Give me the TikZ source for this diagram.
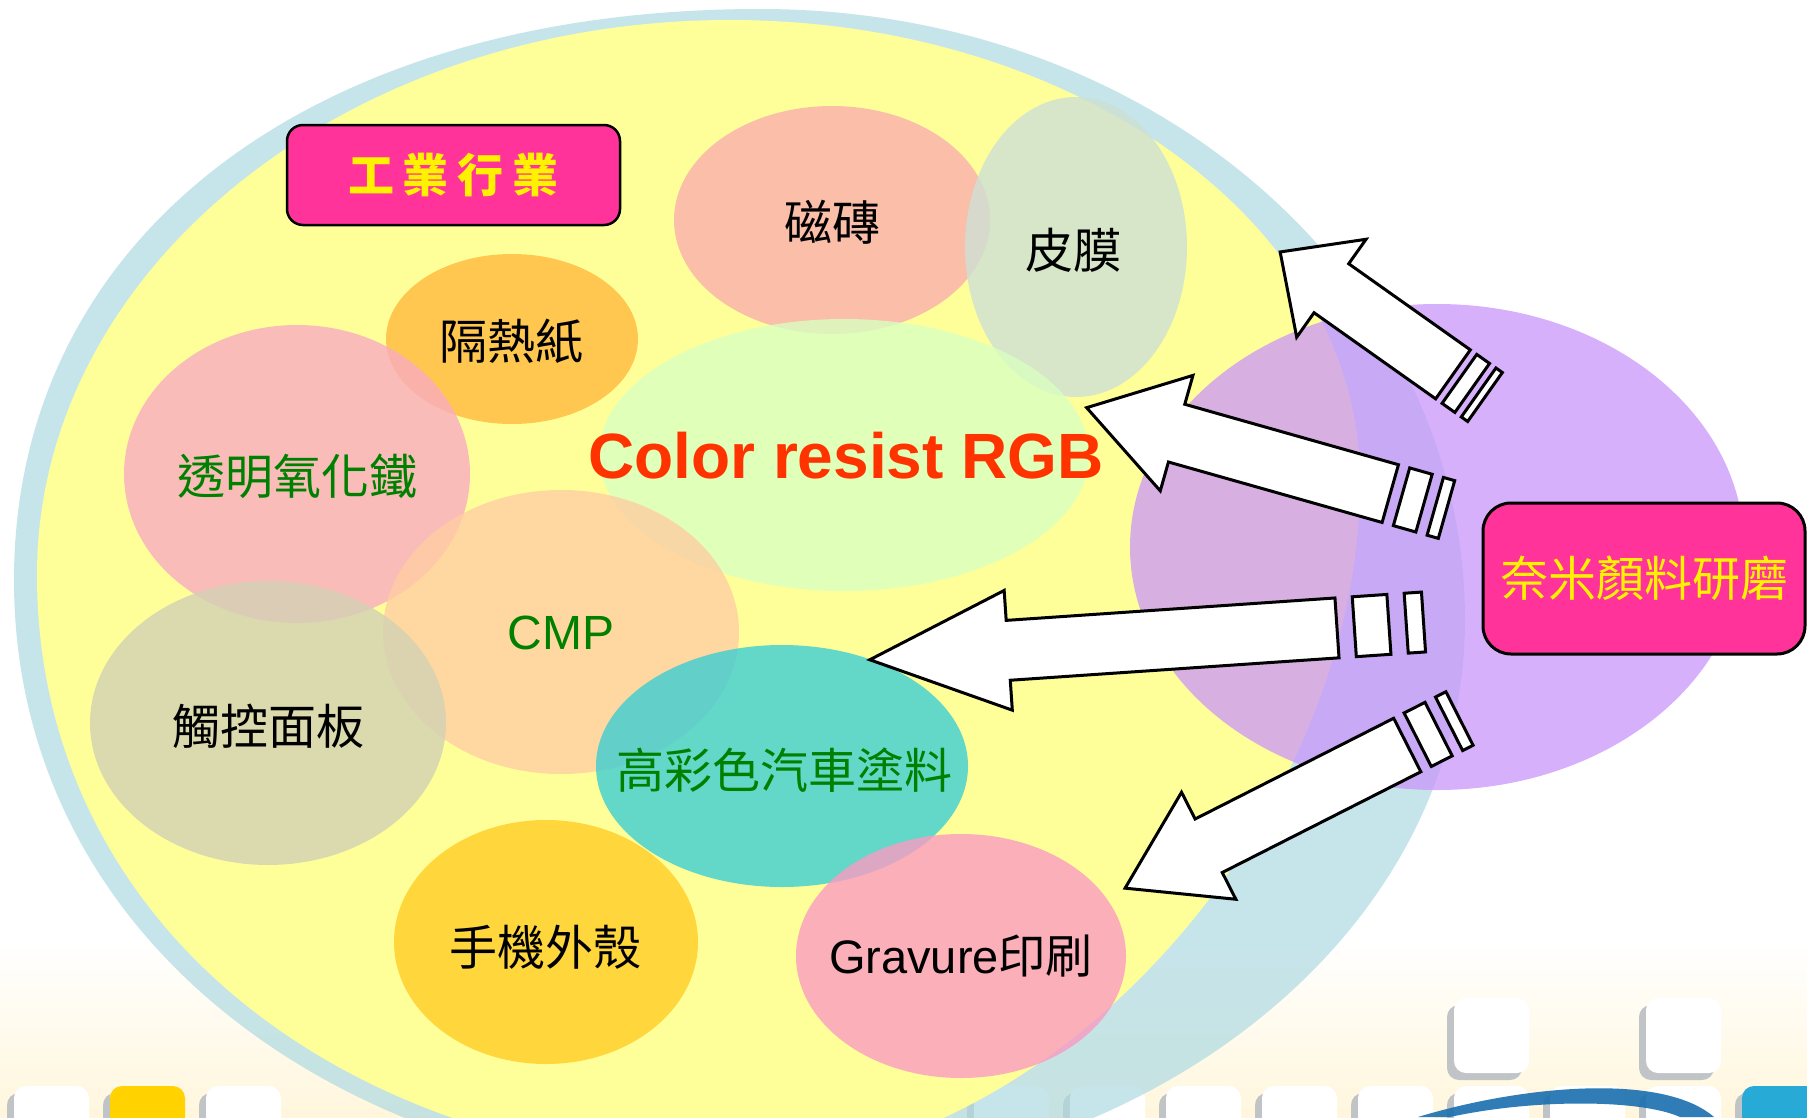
\documentclass[tikz,border=0pt]{standalone}
\usepackage{fontspec}
\setmainfont{Liberation Sans}
\newfontfamily\cjk{Noto Sans CJK TC}
\usetikzlibrary{shapes.geometric}
\definecolor{ylw}{RGB}{255,255,153}
\definecolor{ringblue}{RGB}{175,218,226}
\definecolor{purp}{RGB}{202,150,250}
\definecolor{boxpink}{RGB}{255,51,153}
\definecolor{txtgreen}{RGB}{0,128,0}
\definecolor{txtred}{RGB}{255,51,0}
\definecolor{cSalmon}{RGB}{249,174,174}
\definecolor{cSkin}{RGB}{205,224,212}
\definecolor{cOrange}{RGB}{255,186,62}
\definecolor{cPink}{RGB}{249,172,193}
\definecolor{cLime}{RGB}{217,255,193}
\definecolor{cPeach}{RGB}{255,205,162}
\definecolor{cOlive}{RGB}{211,209,180}
\definecolor{cTeal}{RGB}{61,205,212}
\definecolor{cGold}{RGB}{255,205,37}
\definecolor{cRose}{RGB}{249,155,193}
\definecolor{tileshadow}{RGB}{192,196,198}
\definecolor{tileyellow}{RGB}{255,210,0}
\definecolor{tileblue}{RGB}{40,170,215}
\definecolor{swoosh}{RGB}{25,110,175}
\definecolor{cream}{RGB}{255,246,220}
\tikzset{
  blob/.style={ellipse, inner sep=0pt, fill opacity=0.8},
  lbl/.style={inner sep=0pt, font=\cjk\fontsize{48}{58}\selectfont},
  labelbox/.style={draw=black, line width=2.5pt, fill=boxpink, inner sep=0pt},
  blockarrow/.style={draw=black, fill=white, line width=3pt, line join=miter},
  tile/.style={rounded corners=12pt}
}
\newcommand{\stripedarrow}[4]{%
  \begin{scope}[shift={(#1,#2)}, rotate=#3]
    \draw[blockarrow] (0,-30) rectangle ({0.03125*#4},30);
    \draw[blockarrow] ({0.0625*#4},-30) rectangle ({0.125*#4},30);
    \draw[blockarrow] ({0.15625*#4},-30) -- ({0.75*#4},-30) -- ({0.75*#4},-60) -- (#4,0)
      -- ({0.75*#4},60) -- ({0.75*#4},30) -- ({0.15625*#4},30) -- cycle;
  \end{scope}}
\begin{document}
\begin{tikzpicture}[x=1pt,y=-1pt]
\useasboundingbox (0,0) rectangle (1807,1117);
\clip (0,0) rectangle (1807,1117);
\fill[white] (0,0) rectangle (1807,1117);
% bottom template band
\shade[top color=white, bottom color=cream] (0,940) rectangle (1807,1117);
\foreach \k in {0,1,2,5,6,7,8,9,10,11,12,13,14,15,16,17}{
  \pgfmathsetmacro\xo{7+96*\k}
  \fill[tile, tileshadow] (\xo,1093) rectangle ++(75,80);
  \fill[tile, white] (\xo+7,1086) rectangle ++(75,80);
}
\fill[tile, tileyellow] (110,1086) rectangle ++(75,80);
\fill[tile, tileshadow] (1735,1093) rectangle ++(90,80);
\fill[tile, tileblue] (1742,1086) rectangle ++(90,80);
\foreach \k in {15,17}{
  \pgfmathsetmacro\xo{7+96*\k}
  \fill[tile, tileshadow] (\xo,1005) rectangle ++(75,75);
  \fill[tile, white] (\xo+7,998) rectangle ++(75,75);
}
\fill[swoosh, fill opacity=0.9] (1418,1117) .. controls (1520,1086) and (1662,1072) .. (1714,1117)
  -- (1680,1117) .. controls (1640,1099) and (1532,1099) .. (1450,1117) -- cycle;
% big ellipse: blue ring and yellow body
\fill[ringblue, fill opacity=0.7] (14,580)
  .. controls (14,237) and (312,9) .. (760,9)
  .. controls (1155,9) and (1465,283) .. (1465,620)
  .. controls (1465,932) and (1149,1185) .. (760,1185)
  .. controls (348,1185) and (14,943) .. (14,580) -- cycle;
\fill[ylw] (37,575)
  .. controls (37,268) and (347,20) .. (730,20)
  .. controls (1078,20) and (1360,226) .. (1360,480)
  .. controls (1360,822) and (1050,1165) .. (740,1165)
  .. controls (352,1165) and (37,929) .. (37,575) -- cycle;
% inner ellipses
\node[blob, fill=cSalmon, minimum width=316pt, minimum height=228pt] (cizhuan) at (832,220) {};
\node[blob, fill=cSkin, minimum width=222pt, minimum height=300pt] (pimo) at (1076,247) {};
\node[blob, fill=cLime, minimum width=490pt, minimum height=272pt] (colres) at (844,455) {};
\node[blob, fill=cOrange, minimum width=252pt, minimum height=170pt] (gere) at (512,339) {};
\node[blob, fill=cPink, minimum width=346pt, minimum height=298pt] (touming) at (297,474) {};
\node[blob, fill=cPeach, minimum width=356pt, minimum height=284pt] (cmp) at (561,632) {};
\node[blob, fill=cOlive, minimum width=356pt, minimum height=284pt] (chukong) at (268,723) {};
\node[blob, fill=cTeal, minimum width=372pt, minimum height=242pt] (gaocai) at (782,766) {};
\node[blob, fill=cGold, minimum width=304pt, minimum height=244pt] (shouji) at (546,942) {};
\node[blob, fill=cRose, minimum width=330pt, minimum height=244pt] (gravure) at (961,956) {};
% purple source ellipse
\node[ellipse, inner sep=0pt, fill=purp, fill opacity=0.75, minimum width=614pt, minimum height=486pt] (nano) at (1437,547) {};
% labels
\node[lbl] (cizhuanT) at (832,222) {磁磚};
\node[lbl] (pimoT) at (1073,250) {皮膜};
\node[lbl] (gereT) at (511,341) {隔熱紙};
\node[lbl, text=txtgreen] (toumingT) at (297,476) {透明氧化鐵};
\node[lbl, text=txtgreen, font=\fontsize{48}{58}\selectfont] (cmpT) at (561,633) {CMP};
\node[lbl] (chukongT) at (268,726) {觸控面板};
\node[lbl, text=txtgreen] (gaocaiT) at (784,770) {高彩色汽車塗料};
\node[lbl] (shoujiT) at (545,947) {手機外殼};
\node[lbl, font=\fontsize{47}{58}\selectfont] (gravureT) at (961,956) {Gravure{\cjk 印刷}};
\node[inner sep=0pt, text=txtred, font=\bfseries\fontsize{64}{72}\selectfont] (colresT) at (846,456) {Color resist RGB};
% block arrows
\stripedarrow{1485}{397}{144.7}{251}
\stripedarrow{1446.5}{509.5}{164.2}{374}
\stripedarrow{1423.5}{622}{183.9}{555}
\stripedarrow{1459.5}{718.5}{206.9}{375}
% title boxes
\node[labelbox, rounded corners=16pt, minimum width=333pt, minimum height=100pt, text=yellow,
  font=\cjk\bfseries\fontsize{46}{54}\selectfont] (gongye) at (453.5,175)
  {工\hspace{9pt}業\hspace{9pt}行\hspace{9pt}業};
\node[labelbox, line width=3pt, rounded corners=28pt, minimum width=322pt, minimum height=151pt, text=yellow,
  font=\cjk\fontsize{48}{58}\selectfont] (nanoT) at (1644,578.5) {奈米顏料研磨};
\end{tikzpicture}
\end{document}
